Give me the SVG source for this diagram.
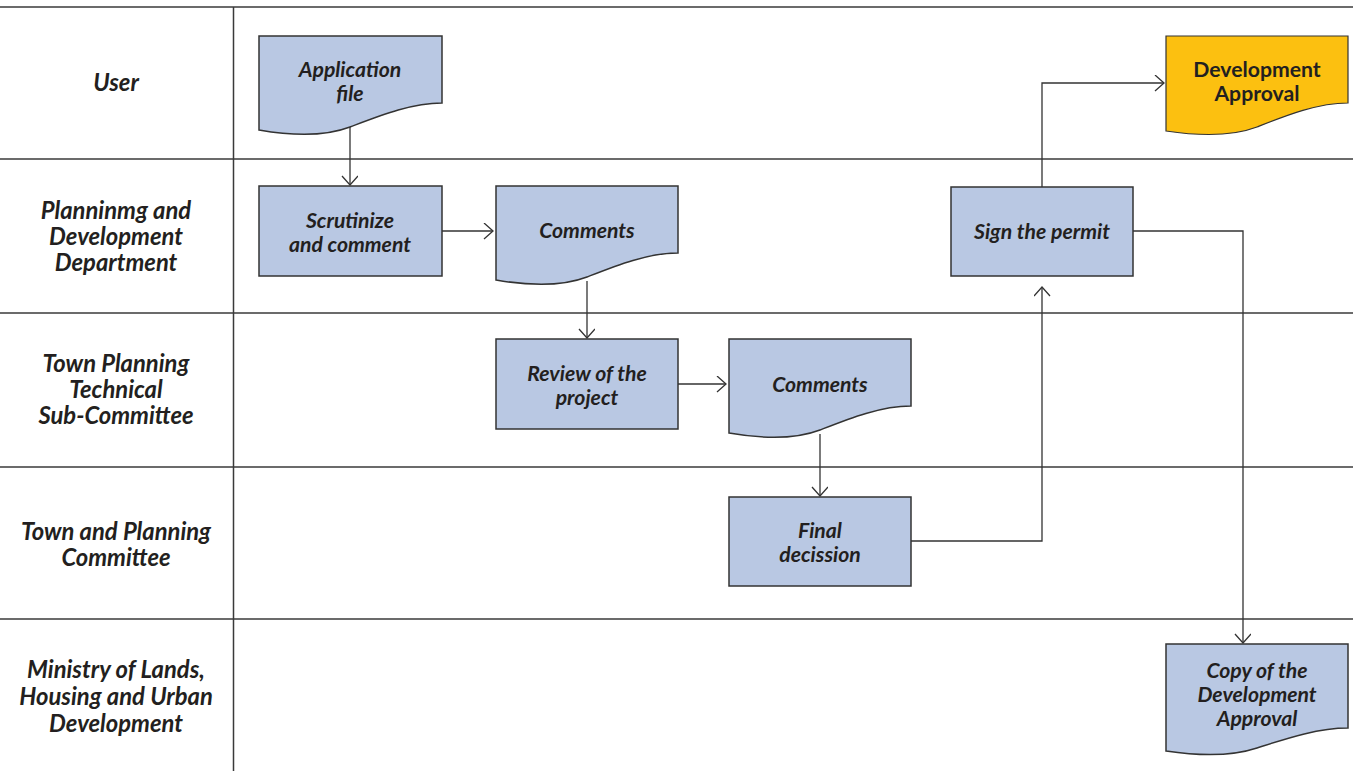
<svg xmlns="http://www.w3.org/2000/svg" width="1353" height="771" viewBox="0 0 1353 771">
  <style>
    .lane { stroke: #3a3a3a; stroke-width: 1.5; fill: none; }
    .box { fill: #b9c8e3; stroke: #333; stroke-width: 1.5; }
    .gold { fill: #fcc010; stroke: #333; stroke-width: 1.2; }
    .lbl { font-family: Lato, "Open Sans", sans-serif; font-weight: bold; font-style: italic; font-size: 21.2px; fill: #231f20; text-anchor: middle; }
    .lanelbl { font-family: Lato, "Open Sans", sans-serif; font-weight: bold; font-style: italic; font-size: 23.8px; fill: #231f20; text-anchor: middle; }
    .plain { font-style: normal; }
    .conn { stroke: #333; stroke-width: 1.3; fill: none; marker-end: url(#arr); }
  </style>
  <defs>
    <marker id="arr" markerUnits="userSpaceOnUse" markerWidth="20" markerHeight="20" refX="10" refY="8" orient="auto">
      <path d="M1,0 L10,8 L1,16" fill="none" stroke="#333" stroke-width="1.3"/>
    </marker>
  </defs>

  <rect width="1353" height="771" fill="#fff"/>

  <!-- swimlane grid -->
  <g id="lanes">
    <line class="lane" x1="0" y1="7" x2="1353" y2="7"/>
    <line class="lane" x1="0" y1="159" x2="1353" y2="159"/>
    <line class="lane" x1="0" y1="313" x2="1353" y2="313"/>
    <line class="lane" x1="0" y1="467" x2="1353" y2="467"/>
    <line class="lane" x1="0" y1="619" x2="1353" y2="619"/>
    <line class="lane" x1="233.5" y1="7" x2="233.5" y2="771"/>
    <text class="lanelbl" x="116" y="91">User</text>
    <text class="lanelbl" x="116" y="219">Planninmg and</text>
    <text class="lanelbl" x="116" y="245">Development</text>
    <text class="lanelbl" x="116" y="271">Department</text>
    <text class="lanelbl" x="116" y="372">Town Planning</text>
    <text class="lanelbl" x="116" y="398">Technical</text>
    <text class="lanelbl" x="116" y="424">Sub-Committee</text>
    <text class="lanelbl" x="116" y="540">Town and Planning</text>
    <text class="lanelbl" x="116" y="566">Committee</text>
    <text class="lanelbl" x="116" y="678">Ministry of Lands,</text>
    <text class="lanelbl" x="116" y="705">Housing and Urban</text>
    <text class="lanelbl" x="116" y="732">Development</text>
  </g>

  <!-- connectors -->
  <g id="connectors">
    <path class="conn" d="M350,127 V185"/>
    <path class="conn" d="M442,231 H493"/>
    <path class="conn" d="M587,281 V338"/>
    <path class="conn" d="M678,384 H726"/>
    <path class="conn" d="M820,434 V496"/>
    <path class="conn" d="M911,541 H1042 V287"/>
    <path class="conn" d="M1042,187 V83 H1164"/>
    <path class="conn" d="M1133,231 H1243 V643"/>
  </g>

  <g id="application-file">
    <path class="box" d="M259,36 H442 V103 C411,103 379,116 350,127 C329,135 299,137 259,130 Z"/>
    <text class="lbl" x="350" y="77">Application</text>
    <text class="lbl" x="350" y="101">file</text>
  </g>

  <g id="scrutinize">
    <rect class="box" x="259" y="186" width="183" height="90"/>
    <text class="lbl" x="350" y="228">Scrutinize</text>
    <text class="lbl" x="350" y="252">and comment</text>
  </g>

  <g id="comments-1">
    <path class="box" d="M496,186 H678 V253 C647,253 615,266 587,277 C566,285 536,287 496,280 Z"/>
    <text class="lbl" x="587" y="238">Comments</text>
  </g>

  <g id="review">
    <rect class="box" x="496" y="339" width="182" height="90"/>
    <text class="lbl" x="587" y="381">Review of the</text>
    <text class="lbl" x="587" y="405">project</text>
  </g>

  <g id="comments-2">
    <path class="box" d="M729,339 H911 V406 C880,406 848,419 820,430 C799,438 769,440 729,433 Z"/>
    <text class="lbl" x="820" y="392">Comments</text>
  </g>

  <g id="final-decision">
    <rect class="box" x="729" y="497" width="182" height="89"/>
    <text class="lbl" x="820" y="538">Final</text>
    <text class="lbl" x="820" y="562">decission</text>
  </g>

  <g id="sign-permit">
    <rect class="box" x="951" y="187" width="182" height="89"/>
    <text class="lbl" x="1042" y="239">Sign the permit</text>
  </g>

  <g id="development-approval">
    <path class="gold" d="M1166,36 H1348 V103 C1317,103 1285,116 1257,127 C1236,135 1206,137 1166,131 Z"/>
    <text class="lbl plain" x="1257" y="77">Development</text>
    <text class="lbl plain" x="1257" y="101">Approval</text>
  </g>

  <g id="copy-approval">
    <path class="box" d="M1166,644 H1348 V728 C1317,728 1285,739 1257,748 C1236,755 1206,757 1166,751 Z"/>
    <text class="lbl" x="1257" y="678">Copy of the</text>
    <text class="lbl" x="1257" y="702">Development</text>
    <text class="lbl" x="1257" y="726">Approval</text>
  </g>
</svg>
